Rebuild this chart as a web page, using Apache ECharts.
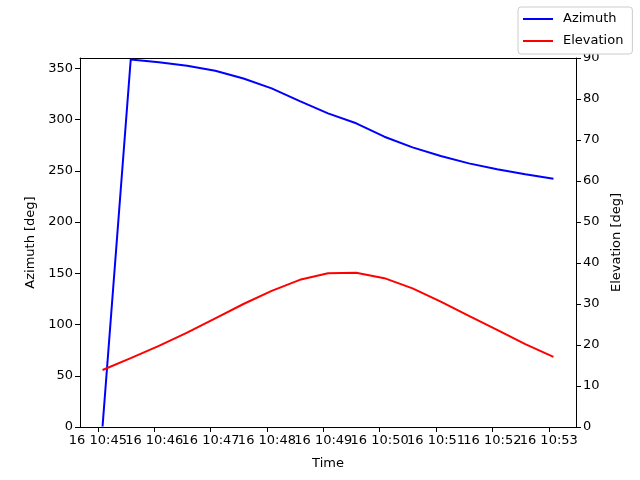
<!DOCTYPE html>
<html>
<head>
<meta charset="utf-8">
<script src="https://cdn.jsdelivr.net/npm/echarts@6/dist/echarts.min.js"></script>
<style>
  html, body { margin: 0; padding: 0; background: #fff; }
  #chart { width: 640px; height: 480px; }
</style>
</head>
<body>
<div id="chart"></div>
<script>
// sample times (16th, every 30 s)
const times = ['10:45:05', '10:45:35', '10:46:05', '10:46:35', '10:47:05', '10:47:35',
  '10:48:05', '10:48:35', '10:49:05', '10:49:35', '10:50:05', '10:50:35',
  '10:51:05', '10:51:35', '10:52:05', '10:52:35', '10:53:05']
const azimuth = [0.5, 358.5, 355.8, 352.5, 347.6, 340, 330.4, 318, 306, 296.3,
  283.2, 272.8, 264.4, 257.2, 251.4, 246.5, 242.2]
const elevation = [13.9, 16.8, 19.8, 23.0, 26.5, 30.0, 33.2, 35.9, 37.5, 37.6,
  36.3, 33.8, 30.6, 27.1, 23.7, 20.2, 17.1]
const tickLabels = ['10:45', '10:46', '10:47', '10:48', '10:49', '10:50', '10:51', '10:52', '10:53']

// seconds since 10:45:00
const toSec = (s) => {
  const p = s.split(':').map(Number)
  return (p[0] - 10) * 3600 + (p[1] - 45) * 60 + (p[2] || 0)
}
const xs = times.map(toSec)
const ticks = tickLabels.map(toSec)
const span = xs[xs.length - 1] - xs[0]
const xMin = xs[0] - span * 0.05
const xMax = xs[xs.length - 1] + span * 0.05

const font = { fontFamily: 'DejaVu Sans', fontSize: 13, color: '#000' }
const axisLine = { show: true, onZero: false, lineStyle: { color: '#000', width: 1 } }
const axisTick = { show: true, length: 5, lineStyle: { color: '#000' } }
const tickText = (v) => '16 ' + tickLabels[ticks.indexOf(v)]

// labels overlap like the original, so split them over two bottom axes
const labelAxis = (vals) => ({
  type: 'value',
  position: 'bottom',
  min: xMin,
  max: xMax,
  axisLine: { show: false, onZero: false },
  axisTick: { show: false },
  axisLabel: Object.assign({ customValues: vals, margin: 7, showMinLabel: true, showMaxLabel: true, formatter: tickText }, font),
  splitLine: { show: false }
})

const chart = echarts.init(document.getElementById('chart'))
chart.setOption({
  animation: false,
  grid: { left: 80, right: 64, top: 58, bottom: 53 },
  legend: {
    left: 518,
    top: 7,
    orient: 'vertical',
    backgroundColor: '#fff',
    borderColor: '#ccc',
    borderWidth: 1,
    borderRadius: 3,
    padding: [4, 9, 5, 5],
    itemGap: 6,
    itemWidth: 30,
    itemHeight: 2,
    icon: 'rect',
    textStyle: { fontFamily: 'DejaVu Sans', fontSize: 13, color: '#000', padding: [0, 0, 0, 5], lineHeight: 16 },
    data: ['Azimuth', 'Elevation']
  },
  xAxis: [{
    type: 'value',
    min: xMin,
    max: xMax,
    name: 'Time',
    nameLocation: 'middle',
    nameGap: 30,
    nameTextStyle: font,
    axisLine: axisLine,
    axisTick: Object.assign({ customValues: ticks }, axisTick),
    axisLabel: { show: false },
    splitLine: { show: false }
  }, {
    type: 'value',
    position: 'top',
    min: xMin,
    max: xMax,
    axisLine: axisLine,
    axisTick: { show: false },
    axisLabel: { show: false },
    splitLine: { show: false }
  },
  labelAxis(ticks.filter((t, i) => i % 2 === 0)),
  labelAxis(ticks.filter((t, i) => i % 2 === 1))],
  yAxis: [{
    type: 'value',
    min: 0,
    max: 360,
    interval: 50,
    name: 'Azimuth [deg]',
    nameLocation: 'middle',
    nameGap: 43,
    nameTextStyle: font,
    axisLine: axisLine,
    axisTick: axisTick,
    axisLabel: Object.assign({ showMaxLabel: false, margin: 7 }, font),
    splitLine: { show: false }
  }, {
    type: 'value',
    position: 'right',
    min: 0,
    max: 90,
    interval: 10,
    name: 'Elevation [deg]',
    nameLocation: 'middle',
    nameGap: 33,
    nameTextStyle: font,
    axisLine: axisLine,
    axisTick: axisTick,
    axisLabel: Object.assign({ margin: 7 }, font),
    splitLine: { show: false }
  }],
  series: [{
    name: 'Azimuth',
    type: 'line',
    yAxisIndex: 0,
    data: xs.map((x, i) => [x, azimuth[i]]),
    showSymbol: false,
    symbol: 'none',
    color: '#0000ff',
    lineStyle: { width: 2 }
  }, {
    name: 'Elevation',
    type: 'line',
    yAxisIndex: 1,
    data: xs.map((x, i) => [x, elevation[i]]),
    showSymbol: false,
    symbol: 'none',
    color: '#ff0000',
    lineStyle: { width: 2 }
  }]
})
</script>
</body>
</html>
